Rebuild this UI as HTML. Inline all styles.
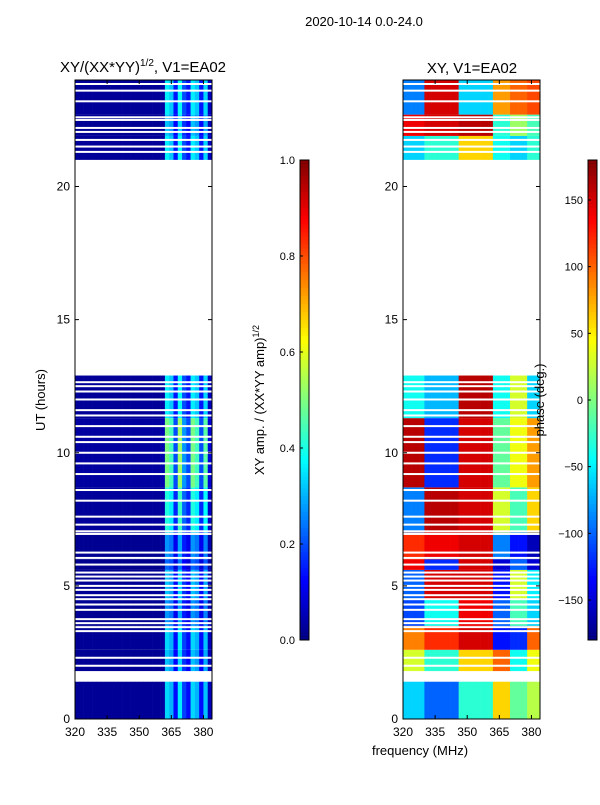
<!DOCTYPE html>
<html><head><meta charset="utf-8"><style>
body{margin:0;background:#fff;font-family:"Liberation Sans",sans-serif;}
svg text{font-family:"Liberation Sans",sans-serif;fill:#000;}
</style></head><body>
<svg id="fig" width="600" height="800" viewBox="0 0 600 800" xmlns="http://www.w3.org/2000/svg">
<rect width="600" height="800" fill="#fff"/>
<text x="364" y="26" font-size="13" text-anchor="middle">2020-10-14 0.0-24.0</text>
<text x="143" y="72" font-size="15" text-anchor="middle">XY/(XX*YY)<tspan font-size="10" dy="-6">1/2</tspan><tspan dy="6">, V1=EA02</tspan></text>
<text x="472" y="73" font-size="15" text-anchor="middle">XY, V1=EA02</text>
<g id="left"></g>
<g id="right"></g>
<g id="cb1"></g>
<g id="cb2"></g>
<text transform="translate(45,400) rotate(-90)" font-size="13" text-anchor="middle">UT (hours)</text>
<text x="420" y="755" font-size="13" text-anchor="middle">frequency (MHz)</text>
<text transform="translate(264,400) rotate(-90)" font-size="13" text-anchor="middle">XY amp. / (XX*YY amp)<tspan font-size="9" dy="-5">1/2</tspan></text>
<text transform="translate(544,400) rotate(-90)" font-size="13" text-anchor="middle">phase (deg.)</text>
</svg>
<script>
// ---- data ----
const chanFreqs=[320,322,324,326,328,330,332,334,336,338,340,342,344,346,348,350,352,354,356,358,360,362,364,366,368,370,372,374,376,378,380,382];
const ampByChannel=[0.03,0.03,0.03,0.03,0.03,0.03,0.03,0.03,0.03,0.03,0.03,0.03,0.03,0.03,0.03,0.03,0.03,0.03,0.03,0.03,0.04,0.45,0.40,0.18,0.48,0.25,0.18,0.45,0.40,0.18,0.42,0.08];
const blockStart=[0.0,1.8,2.6,3.5,4.5,5.6,6.0,7.0,8.7,11.3,21.0,21.9,22.7];
const blockEnd=[1.4,2.6,3.5,4.5,5.6,6.0,7.0,8.7,11.3,12.9,21.9,22.7,24.0];
const blockAmpScale=[0.75,0.7,0.75,0.6,0.7,0.5,0.6,0.9,1.1,0.8,0.8,0.7,0.8];
const bandEdges=[330,345,362,370,378];
const phaseBand1=[-60,30,90,-110,-100,140,120,-90,160,-40,-60,140,-90];
const phaseBand2=[-100,-30,120,-40,150,-120,140,160,-120,-70,-30,150,150];
const phaseBand3=[-30,60,150,140,150,150,150,150,150,160,60,160,-60];
const phaseBand4=[60,100,-130,-100,-130,-150,-90,30,-10,-40,-40,-30,80];
const phaseBand5=[-10,-40,-120,-20,30,-100,-130,-20,40,30,-60,10,100];
const phaseBand6=[20,40,100,-60,-50,-150,-160,60,80,-60,-30,-20,110];
const flagHours=[2.0,2.3,3.3,3.45,3.6,3.75,4.1,4.3,4.5,4.65,4.85,5.0,5.2,5.35,5.5,5.8,6.05,6.25,6.95,7.05,7.3,7.6,8.2,8.6,9.2,9.6,10.0,10.4,10.6,11.0,11.4,11.6,12.0,12.3,12.5,12.65,21.3,21.5,21.75,22.05,22.2,22.5,22.6,23.2,23.6,23.85];
const yTicks=[0,5,10,15,20];
const xTicks=[320,335,350,365,380];
const cb1Ticks=[0.0,0.2,0.4,0.6,0.8,1.0];
const cb2Ticks=[-150,-100,-50,0,50,100,150];
// ---- helpers ----
const NS="http://www.w3.org/2000/svg";
function mk(tag,attrs,parent){const e=document.createElementNS(NS,tag);for(const k in attrs)e.setAttribute(k,attrs[k]);parent.appendChild(e);return e;}
function jet(v){v=Math.max(0,Math.min(1,v));const c=x=>Math.round(255*Math.max(0,Math.min(1,x)));
 return `rgb(${c(1.5-Math.abs(4*v-3))},${c(1.5-Math.abs(4*v-2))},${c(1.5-Math.abs(4*v-1))})`;}
const Y0=719,Y1=80;
const yScale=h=>Y0-(h/24)*(Y0-Y1);
function xScale(x0,f){return x0+(f-320)*(137/64);}
function bandOf(f){let b=0;while(b<bandEdges.length&&f>=bandEdges[b])b++;return b;}
const phaseBands=[phaseBand1,phaseBand2,phaseBand3,phaseBand4,phaseBand5,phaseBand6];
function panel(gid,x0,kind){
 const g=document.getElementById(gid);
 blockStart.forEach((s,bi)=>{
  const y=yScale(blockEnd[bi]),h=yScale(s)-y;
  chanFreqs.forEach((f,ci)=>{
   let v;
   if(kind==='amp'){v=ampByChannel[ci]*blockAmpScale[bi];}
   else{const ph=phaseBands[bandOf(f)][bi];v=(ph+180)/360;}
   const r=mk('rect',{x:xScale(x0,f),y:y,width:137/32+0.3,height:h,fill:jet(v)},g);
   
   
  });
 });
 flagHours.forEach(hr=>{
  const r=mk('rect',{x:x0,y:yScale(hr)-1,width:137,height:2,fill:'#fff'},g);
  
  
 });
 const fr=mk('rect',{x:x0,y:Y1,width:137,height:Y0-Y1,fill:'none',stroke:'#000','stroke-width':1},g);
 
 
 yTicks.forEach(t=>{const y=yScale(t);
  mk('line',{x1:x0,x2:x0+4,y1:y,y2:y,stroke:'#000'},g);mk('line',{x1:x0+133,x2:x0+137,y1:y,y2:y,stroke:'#000'},g);
  const tx=mk('text',{x:x0-5,y:y+4,'font-size':12,'text-anchor':'end'},g);tx.textContent=t;
  
  });
 xTicks.forEach(t=>{const x=xScale(x0,t);
  mk('line',{x1:x,x2:x,y1:Y0,y2:Y0-4,stroke:'#000'},g);mk('line',{x1:x,x2:x,y1:Y1,y2:Y1+4,stroke:'#000'},g);
  const tx=mk('text',{x:x,y:Y0+17,'font-size':12,'text-anchor':'middle'},g);tx.textContent=t;
  
  });
}
panel('left',75,'amp');panel('right',403,'phase');
function colorbar(gid,x,ticks,lo,hi,fmt){
 const g=document.getElementById(gid);const top=160,bot=640;
 for(let i=0;i<120;i++){mk('rect',{x:x,y:bot-(i+1)*4,width:9,height:4.3,fill:jet((i+0.5)/120)},g);}
 mk('rect',{x:x,y:top,width:9,height:bot-top,fill:'none',stroke:'#000'},g);
 ticks.forEach(t=>{const y=bot-(t-lo)/(hi-lo)*(bot-top);
  mk('line',{x1:x,x2:x+3,y1:y,y2:y,stroke:'#000'},g);
  const tx=mk('text',{x:x-5,y:y+4,'font-size':11,'text-anchor':'end'},g);tx.textContent=fmt(t);
  
  });
}
colorbar('cb1',300,cb1Ticks,0,1,t=>t.toFixed(1));
colorbar('cb2',588,cb2Ticks,-180,180,t=>t<0?'\u2212'+(-t):String(t));
</script>
</body></html>
